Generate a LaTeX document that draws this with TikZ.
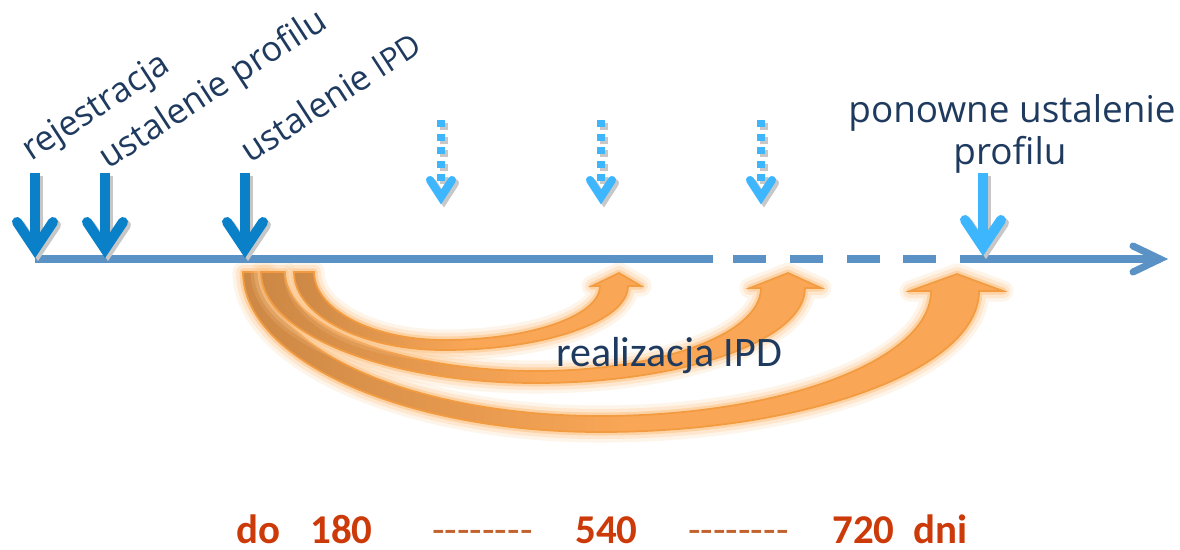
\documentclass[tikz,border=0pt]{standalone}
\usepackage{fontspec}
\setmainfont{Carlito}
\newfontfamily\labfont{Open Sans}
\definecolor{darkblue}{HTML}{0A80C8}
\definecolor{lightblue}{HTML}{3DB6FD}
\definecolor{axisblue}{HTML}{5A92C6}
\definecolor{navy}{HTML}{1F3A5F}
\definecolor{orangeL}{HTML}{F9A656}
\definecolor{orangeD}{HTML}{CC8845}
\definecolor{orangeE}{HTML}{F39B40}
\definecolor{glow}{HTML}{FCC68C}
\definecolor{numred}{HTML}{CC3A0A}
\definecolor{dashred}{HTML}{C4622E}
\newcommand\solidarrow[4]{% x, top y, tip y, colour
  \begin{scope}[shift={(3,3)}]
    \draw[shd, line width=5.7pt] (#1,#2) -- (#1,#3);
    \draw[shd, chev] (#1-18,#3-27) -- (#1,#3) -- (#1+18,#3-27);
  \end{scope}
  \draw[#4, line width=5.7pt] (#1,#2) -- (#1,#3);
  \draw[#4, chev] (#1-18,#3-27) -- (#1,#3) -- (#1+18,#3-27);
}
\newcommand\dotarrow[1]{% x
  \begin{scope}[shift={(3,3)}]
    \draw[shd, dots] (#1,120) -- (#1,182);
    \draw[shd, chev, line width=4.6pt] (#1-11,180) -- (#1,197) -- (#1+11,180);
  \end{scope}
  \draw[lightblue, dots] (#1,120) -- (#1,182);
  \draw[lightblue, chev, line width=4.6pt] (#1-11,180) -- (#1,197) -- (#1+11,180);
}
\def\bandA{(294,272) .. controls (294,315) and (361,350) .. (444,350)
  .. controls (545,350) and (628,321) .. (628,286)
  -- (641,286) -- (619,273) -- (592,286) -- (600,286)
  .. controls (600,316) and (530,340) .. (444,340)
  .. controls (372,340) and (314,309) .. (314,272) -- cycle}
\def\bandB{(261,272) .. controls (261,333) and (385,383) .. (536,383)
  .. controls (684,383) and (805,340) .. (805,288)
  -- (821,288) -- (788,273) -- (750,288) -- (761,288)
  .. controls (761,334) and (660,371) .. (536,371)
  .. controls (398,371) and (285,326) .. (285,272) -- cycle}
\def\bandC{(243,272) .. controls (243,360) and (404,432) .. (600,432)
  .. controls (808,432) and (979,369) .. (979,291)
  -- (1003,291) -- (957,274) -- (910,291) -- (931,291)
  .. controls (931,360) and (782,416) .. (600,416)
  .. controls (417,416) and (267,351) .. (267,272) -- cycle}
\begin{document}
\begin{tikzpicture}[x=0.02cm,y=-0.02cm,
  shd/.style={black!22},
  chev/.style={line width=5.7pt, line cap=round, line join=miter},
  dots/.style={line width=4pt, dash pattern=on 4pt off 3.7pt},
  axisline/.style={axisblue, line width=4pt},
  glow0/.style={draw=glow, line width=12pt, line join=round, opacity=0.18},
  glowA/.style={draw=glow, line width=8pt, line join=round, opacity=0.3},
  glowB/.style={draw=glow, line width=4pt, line join=round, opacity=0.6},
  bandfill/.style={draw=orangeE, line width=1pt, shading=axis, left color=orangeD, right color=orangeL, middle color=orangeL},
  lab/.style={navy, inner sep=0, font=\labfont\fontsize{19.8pt}{24pt}\selectfont},
  labr/.style={navy, inner sep=0, font=\labfont\fontsize{21pt}{25pt}\selectfont},
  num/.style={numred, inner sep=0, anchor=base west, font=\bfseries\fontsize{23.3pt}{28pt}\selectfont},
  dashtxt/.style={dashred, inner sep=0, anchor=base west, font=\fontsize{23.3pt}{28pt}\selectfont}]
\useasboundingbox (0,0) rectangle (1180,549);

% orange curved arrows (realizacja IPD)
\draw[glow0] \bandC; \draw[glowA] \bandC; \draw[glowB] \bandC; \path[bandfill] \bandC;
\draw[glow0] \bandB; \draw[glowA] \bandB; \draw[glowB] \bandB; \path[bandfill] \bandB;
\draw[glow0] \bandA; \draw[glowA] \bandA; \draw[glowB] \bandA; \path[bandfill] \bandA;

% time axis
\coordinate (a0) at (35,259);
\coordinate (a1) at (713,259);
\coordinate (a2) at (960,259);
\coordinate (aend) at (1160,259);
\draw[axisline] (a0) -- (a1);
\foreach \s in {733,790,847,903} \draw[axisline] (\s,259) -- (\s+33,259);
\draw[axisline] (a2) -- (aend);
\draw[axisline, line cap=round, line join=miter] (1133,246) -- (aend) -- (1133,272);

% event arrows
\solidarrow{35}{173}{249}{darkblue}
\solidarrow{105}{173}{249}{darkblue}
\solidarrow{245}{173}{249}{darkblue}
\solidarrow{983}{173}{247}{lightblue}
\dotarrow{441}
\dotarrow{601}
\dotarrow{761}

% labels
\node[lab, anchor=base west, rotate=33] (rej) at (31,162) {rejestracja};
\node[lab, anchor=base west, rotate=33] (up) at (108,170) {ustalenie profilu};
\node[lab, anchor=base west, rotate=33] (uipd) at (250,164) {ustalenie {\fontsize{18pt}{20pt}\selectfont IPD}};
\node[labr, anchor=base] (pon1) at (1012,122) {ponowne ustalenie};
\node[labr, anchor=base] (pon2) at (1010,164) {profilu};
\node[navy, inner sep=0, anchor=base, font=\fontsize{23.9pt}{28pt}\selectfont] (real) at (669,366) {realizacja IPD};

% bottom scale
\node[num] (do) at (236,543) {do};
\node[num] (n180) at (310,543) {180};
\node[dashtxt] (d1) at (432,543) {-{}-{}-{}-{}-{}-{}-{}-};
\node[num] (n540) at (575,543) {540};
\node[dashtxt] (d2) at (688,543) {-{}-{}-{}-{}-{}-{}-{}-};
\node[num] (n720) at (832,543) {720};
\node[num] (dni) at (913,543) {dni};
\end{tikzpicture}
\end{document}
